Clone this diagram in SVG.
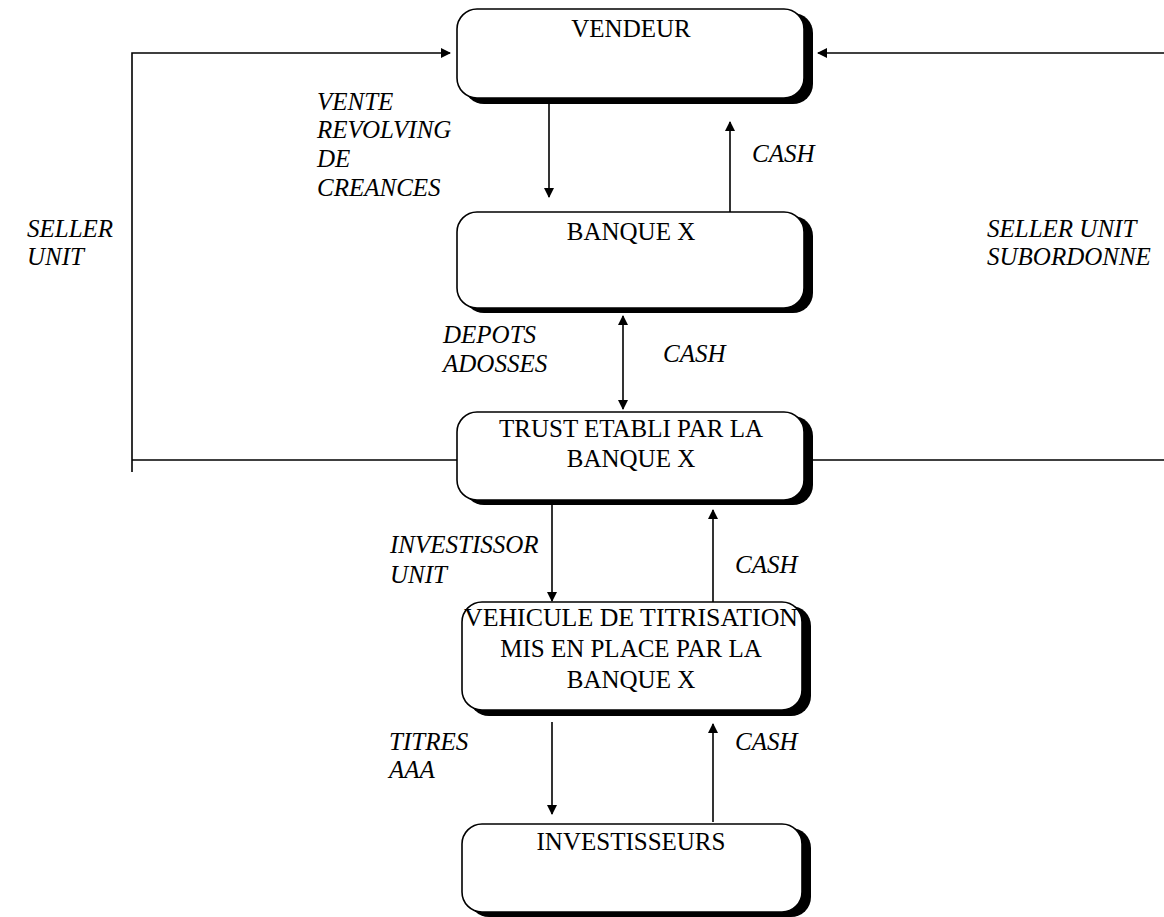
<svg xmlns="http://www.w3.org/2000/svg" width="1164" height="917" viewBox="0 0 1164 917">
<style>
.box{fill:#fff;stroke:#000;stroke-width:1.6}
.sh{fill:#000}
.bt{font-family:"Liberation Serif","Times New Roman",serif;font-size:25px;text-anchor:middle;fill:#000}
.lb{font-family:"Liberation Serif","Times New Roman",serif;font-size:25px;font-style:italic;fill:#000}
.ln{fill:none;stroke:#000;stroke-width:1.6}
</style>
<defs>
<marker id="ah" viewBox="0 0 10 10" refX="9" refY="5" markerWidth="10" markerHeight="10" markerUnits="userSpaceOnUse" orient="auto-start-reverse">
<path d="M0,0 L10,5 L0,10 z" fill="#000"/>
</marker>
</defs>
<rect width="1164" height="917" fill="#fff"/>
<g id="connectors">
<polyline class="ln" points="132,472 132,53 450,53" marker-end="url(#ah)"/>
<line class="ln" x1="132" y1="460" x2="457" y2="460"/>
<line class="ln" x1="1164" y1="53" x2="818" y2="53" marker-end="url(#ah)"/>
<line class="ln" x1="812" y1="460" x2="1164" y2="460"/>
<line class="ln" x1="549" y1="104" x2="549" y2="197" marker-end="url(#ah)"/>
<line class="ln" x1="730" y1="212" x2="730" y2="122" marker-end="url(#ah)"/>
<line class="ln" x1="623" y1="316" x2="623" y2="409" marker-start="url(#ah)" marker-end="url(#ah)"/>
<line class="ln" x1="552" y1="505" x2="552" y2="601" marker-end="url(#ah)"/>
<line class="ln" x1="713" y1="602" x2="713" y2="510" marker-end="url(#ah)"/>
<line class="ln" x1="552" y1="722" x2="552" y2="814" marker-end="url(#ah)"/>
<line class="ln" x1="713" y1="822" x2="713" y2="724" marker-end="url(#ah)"/>
</g>
<g id="vendeur">
<rect class="sh" x="464" y="13" width="349" height="91" rx="20"/>
<rect class="box" x="457" y="9" width="347" height="89" rx="20"/>
<text class="bt" x="631" y="37">VENDEUR</text>
</g>
<g id="banque">
<rect class="sh" x="464" y="216" width="349" height="97" rx="20"/>
<rect class="box" x="457" y="212" width="347" height="96" rx="20"/>
<text class="bt" x="631" y="240">BANQUE X</text>
</g>
<g id="trust">
<rect class="sh" x="464" y="416" width="349" height="89" rx="20"/>
<rect class="box" x="457" y="412" width="347" height="88" rx="20"/>
<text class="bt" x="631" y="437">TRUST ETABLI PAR LA</text>
<text class="bt" x="631" y="467">BANQUE X</text>
</g>
<g id="vehicule">
<rect class="sh" x="469" y="606" width="342" height="110" rx="20"/>
<rect class="box" x="462" y="602" width="340" height="108" rx="20"/>
<text class="bt" x="631" y="626" textLength="334" lengthAdjust="spacingAndGlyphs">VEHICULE DE TITRISATION</text>
<text class="bt" x="631" y="657">MIS EN PLACE PAR LA</text>
<text class="bt" x="631" y="688">BANQUE X</text>
</g>
<g id="investisseurs">
<rect class="sh" x="469" y="828" width="342" height="89" rx="20"/>
<rect class="box" x="462" y="824" width="340" height="88" rx="20"/>
<text class="bt" x="631" y="850">INVESTISSEURS</text>
</g>
<g id="labels">
<text class="lb" x="317" y="110">VENTE</text>
<text class="lb" x="317" y="138">REVOLVING</text>
<text class="lb" x="317" y="167">DE</text>
<text class="lb" x="317" y="196">CREANCES</text>
<text class="lb" x="752" y="162">CASH</text>
<text class="lb" x="27" y="237">SELLER</text>
<text class="lb" x="27" y="265">UNIT</text>
<text class="lb" x="987" y="237">SELLER UNIT</text>
<text class="lb" x="987" y="265">SUBORDONNE</text>
<text class="lb" x="443" y="343">DEPOTS</text>
<text class="lb" x="443" y="372">ADOSSES</text>
<text class="lb" x="663" y="362">CASH</text>
<text class="lb" x="390" y="553">INVESTISSOR</text>
<text class="lb" x="390" y="583">UNIT</text>
<text class="lb" x="735" y="573">CASH</text>
<text class="lb" x="389" y="750">TITRES</text>
<text class="lb" x="389" y="778">AAA</text>
<text class="lb" x="735" y="750">CASH</text>
</g>
</svg>
